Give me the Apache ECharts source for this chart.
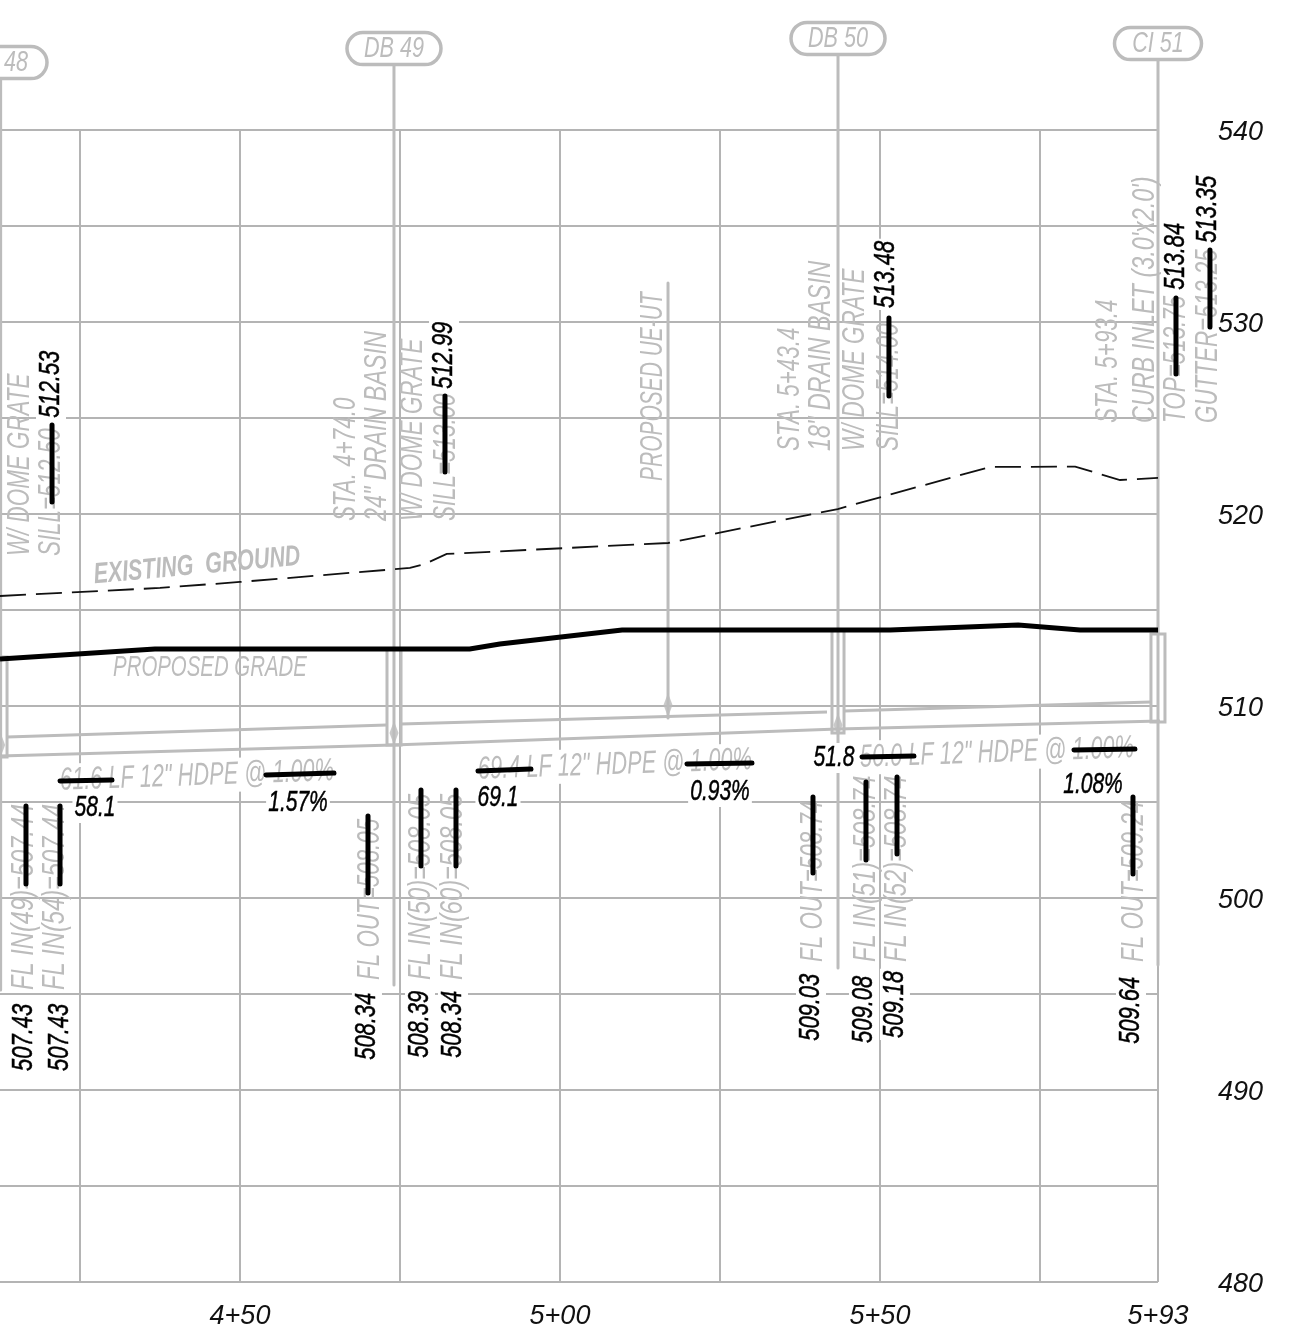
<!DOCTYPE html>
<html><head><meta charset="utf-8">
<style>html,body{margin:0;padding:0;background:#fff}#c{width:1314px;height:1336px}</style>
<script src="https://cdn.jsdelivr.net/npm/echarts@6/dist/echarts.min.js"></script>
</head><body><div id="c"></div>
<script>
// --- values: station (ft) and elevation (ft) ---
const existingGround = [[412.5,515.73],[437.5,516.15],[450,516.46],[476.56,517.19],[478.9,517.4],[482.3,517.92],[516.9,518.49],[543.4,520.26],[567.2,522.45],[580.5,522.47],[587.5,521.77],[593.44,521.88]];
const proposedGrade = [[412.5,512.45],[436.7,512.97],[485.9,512.97],[490.6,513.23],[509.7,513.96],[551.6,513.96],[571.6,514.22],[581.25,513.96],[593.44,513.96]];
const pipeTop1 = [[413.59,508.38],[472.97,509.01]];
const pipeTop2 = [[475.16,509.06],[541.72,509.69]];
const pipeTop3 = [[544.38,509.74],[592.34,510.21]];
const pipeBottom = [[412.5,507.4],[473.9,507.97],[543.44,508.8],[594.53,509.22]];
// structure outlines: station from, station to, elevation top, elevation bottom
const structures = [[412.3,413.6,512.55,507.34],[472.97,475.16,512.97,507.97],[542.5,544.38,513.96,508.59],[592.34,594.53,513.75,509.17]];
// leader lines: station, elevation top, elevation bottom
const leaders = [[412.6,542.66,495.21],[474.06,543.38,495.47],[543.44,543.96,496.35],[593.44,543.65,496.51],[516.88,532.03,509.37]];
const flowMarks = [[412.6,507.97],[474.06,508.59],[543.44,509.01],[516.88,510.05]];
const bubbles = [[412.5,543.51,''],[474.06,544.24,'DB 49'],[543.44,544.77,'DB 50'],[593.44,544.5,'CI 51']];
const bubbleStub = [[415.0,543.51,'48']];
const grayUpNotes = [
 [415.63,517.81,'W/ DOME GRATE'],[420.47,517.81,'SILL=512.50'],
 [466.56,519.63,'STA. 4+74.0'],[477.03,519.63,'W/ DOME GRATE'],[482.19,519.63,'SILL=513.00'],
 [535.94,523.28,'STA. 5+43.4'],[546.09,523.28,'W/ DOME GRATE'],[551.41,523.28,'SILL=514.00'],
 [585.63,524.74,'STA. 5+93.4'],[596.25,524.74,'TOP=513.75'],[601.25,524.74,'GUTTER=513.25'],
 [470.31,495.73,'FL OUT=508.05'],[539.53,496.67,'FL OUT=508.74'],[589.69,496.67,'FL OUT=509.24']
];
const basinNotes = [[471.41,519.63,'24" DRAIN BASIN'],[540.78,523.28,'18" DRAIN BASIN'],[591.41,524.74,"CURB INLET (3.0'x2.0')"]];
const utilityNotes = [[514.53,521.72,'PROPOSED UE-UT']];
const inletNotes = [
 [416.25,495.21,'FL IN(49)=507.44'],[421.09,495.21,'FL IN(54)=507.44'],
 [478.28,495.73,'FL IN(50)=508.05'],[483.28,495.73,'FL IN(60)=508.05'],
 [547.81,496.67,'FL IN(51)=508.74'],[552.66,496.67,'FL IN(52)=508.74']
];
const blackUpNotes = [
 [420.47,524.9,'512.53'],[481.88,526.41,'512.99'],[550.94,530.62,'513.48'],[596.25,531.56,'513.84'],[601.25,534.01,'513.35'],
 [416.25,490.88,'507.43'],[421.88,490.88,'507.43'],[469.84,491.46,'508.34'],[478.13,491.56,'508.39'],[483.28,491.56,'508.34'],
 [539.22,492.45,'509.03'],[547.5,492.34,'509.08'],[552.34,492.6,'509.18'],[589.22,492.29,'509.64']
];
const blackFlatNotes = [[427.34,504.69,'58.1'],[459.06,504.95,'1.57%'],[490.31,505.21,'69.1'],[525,505.52,'0.93%'],[542.81,507.29,'51.8'],[583.28,505.88,'1.08%']];
const pipeNotes = [[443.28,506.35,'61.6 LF 12" HDPE @ 1.00%'],[508.59,506.93,'69.4 LF 12" HDPE @ 1.00%'],[568.28,507.55,'50.0 LF 12" HDPE @ 1.00%']];
const gradeNotes = [[445.31,511.98,'PROPOSED GRADE']];
const groundNotes = [[443.28,517.29,'EXISTING  GROUND']];
// strike-through edits: from station/elev, to station/elev
const strikes = [
 [416.56,504.79,416.56,500.73],[421.88,504.79,421.88,500.73],[470,504.27,470,500.26],[478.28,505.62,478.28,501.67],[483.75,505.62,483.75,501.67],
 [539.53,505.26,539.53,501.3],[547.81,506.04,547.81,501.98],[552.66,506.3,552.66,502.29],[589.53,505.26,589.53,501.25],
 [420.63,524.63,420.63,520.62],[482.03,526.14,482.03,522.19],[551.4,530.21,551.4,526.14],[596.25,531.25,596.25,527.29],[601.56,533.75,601.56,529.74],
 [421.88,506.09,430,506.14],[454.06,506.41,464.69,506.51],[487.19,506.61,495.47,506.72],[519.84,506.98,530,507.03],[547.19,507.34,555.31,507.39],[580.31,507.71,589.84,507.76]
];
const stationLabels = {450:'4+50',500:'5+00',550:'5+50',593.44:'5+93'};

// --- styles ---
const GRAY = '#bcbcbc', GRID = '#b4b4b4', FACE = '"Liberation Sans",sans-serif';
const up = Math.PI/2;

function noteSeries(list, o){
  return {type:'custom',coordinateSystem:'cartesian2d',silent:true,z:o.z||3,
    data:list.map(d=>[d[0],d[1]]),
    renderItem(params,api){
      const d=list[params.dataIndex], p=api.coord([d[0],d[1]]);
      return {type:'text',x:p[0],y:p[1],rotation:o.rot||0,scaleX:o.sx||1,
        style:{text:d[2],font:o.font,fill:o.fill,align:o.align||'center',verticalAlign:'middle',
          backgroundColor:o.bg,padding:o.pad,stroke:o.stroke,lineWidth:o.stroke?0.5:0}};
    }};
}
function segSeries(list, color, width, z){
  return {type:'custom',coordinateSystem:'cartesian2d',silent:true,z:z,
    data:list.map(d=>[d[0],d[1],d[2],d[3]]),
    renderItem(params,api){
      const d=list[params.dataIndex],a=api.coord([d[0],d[1]]),b=api.coord([d[2],d[3]]);
      return {type:'line',shape:{x1:a[0],y1:a[1],x2:b[0],y2:b[1]},style:{stroke:color,lineWidth:width,lineCap:'round'}};
    }};
}
function plain(data,color,width,z,dash){
  return {type:'line',data,showSymbol:false,clip:false,silent:true,z,lineStyle:{color,width,type:dash||'solid',cap:'butt',join:'miter'}};
}

const chart = echarts.init(document.getElementById('c'),null,{renderer:'canvas'});
chart.setOption({
  animation:false,backgroundColor:'#fff',
  grid:{left:-80,width:1238,top:130,height:1152,containLabel:false,outerBoundsMode:'none'},
  xAxis:{type:'value',min:400,max:593.44,interval:25,
    axisLine:{show:false},axisTick:{show:false},
    splitLine:{show:true,lineStyle:{color:GRID,width:2}},
    axisLabel:{margin:21,color:'#111',fontFamily:'Liberation Sans',fontStyle:'italic',fontSize:27,
      showMaxLabel:true,hideOverlap:false,formatter:v=>stationLabels[v]||''}},
  yAxis:{type:'value',position:'right',min:480,max:540,interval:5,
    axisLine:{show:false},axisTick:{show:false},
    splitLine:{show:true,lineStyle:{color:GRID,width:2}},
    axisLabel:{margin:60,color:'#111',fontFamily:'Liberation Sans',fontStyle:'italic',fontSize:27,verticalAlign:'top',lineHeight:4,
      formatter:v=>v%10===0?String(v):''}},
  series:[
    plain(pipeTop1,GRAY,3,2),plain(pipeTop2,GRAY,3,2),plain(pipeTop3,GRAY,3,2),plain(pipeBottom,GRAY,3,2),
    {type:'custom',coordinateSystem:'cartesian2d',silent:true,z:2,data:structures.map(d=>[d[0],d[2],d[1],d[3]]),
      renderItem(params,api){
        const d=structures[params.dataIndex],a=api.coord([d[0],d[2]]),b=api.coord([d[1],d[3]]);
        return {type:'rect',shape:{x:a[0],y:a[1],width:b[0]-a[0],height:b[1]-a[1]},style:{fill:'none',stroke:GRAY,lineWidth:3}};
      }},
    segSeries(leaders.map(d=>[d[0],d[1],d[0],d[2]]),GRAY,3,2),
    {type:'scatter',data:flowMarks,symbol:'diamond',symbolSize:[9,24],silent:true,clip:false,z:2,itemStyle:{color:GRAY}},
    noteSeries(pipeNotes,{rot:0.035,sx:0.68,font:'italic 32px '+FACE,fill:GRAY,bg:'#fff',pad:[2,4,0,4]}),
    {type:'custom',coordinateSystem:'cartesian2d',silent:true,z:3,data:bubbles.map(d=>[d[0],d[1]]),
      renderItem(params,api){
        const d=bubbles[params.dataIndex],p=api.coord([d[0],d[1]]),w=d[2].startsWith('CI')?87:94;
        return {type:'group',children:[
          {type:'rect',shape:{x:p[0]-w/2,y:p[1]-16,width:w,height:32,r:16},style:{fill:'#fff',stroke:GRAY,lineWidth:3.5}},
          {type:'text',x:p[0],y:p[1],scaleX:0.72,style:{text:d[2],font:'italic 30px '+FACE,fill:GRAY,align:'center',verticalAlign:'middle'}}
        ]};
      }},
    noteSeries(bubbleStub,{sx:0.72,z:4,font:'italic 30px '+FACE,fill:GRAY}),
    plain(existingGround,'#111',1.8,4,[26,10]),
    noteSeries(grayUpNotes,{rot:up,sx:0.7,align:'left',font:'italic 32px '+FACE,fill:GRAY}),
    noteSeries(basinNotes,{rot:up,sx:0.73,align:'left',font:'italic 32px '+FACE,fill:GRAY}),
    noteSeries(utilityNotes,{rot:up,sx:0.655,align:'left',font:'italic 32px '+FACE,fill:GRAY}),
    noteSeries(inletNotes,{rot:up,sx:0.74,align:'left',font:'italic 32px '+FACE,fill:GRAY}),
    noteSeries(gradeNotes,{sx:0.68,font:'italic 30px '+FACE,fill:GRAY}),
    noteSeries(groundNotes,{rot:0.09,sx:0.74,font:'italic bold 29px '+FACE,fill:GRAY}),
    plain(proposedGrade,'#000',5,5),
    noteSeries(blackUpNotes,{rot:up,sx:0.73,align:'left',font:'italic 30px '+FACE,fill:'#000',stroke:'#000',bg:'#fff',pad:[0,3,0,3],z:5}),
    noteSeries(blackFlatNotes,{sx:0.7,font:'italic 30px '+FACE,fill:'#000',stroke:'#000',bg:'#fff',pad:[0,3,0,3],z:5}),
    segSeries(strikes,'#000',5,6)
  ]
});
</script></body></html>
